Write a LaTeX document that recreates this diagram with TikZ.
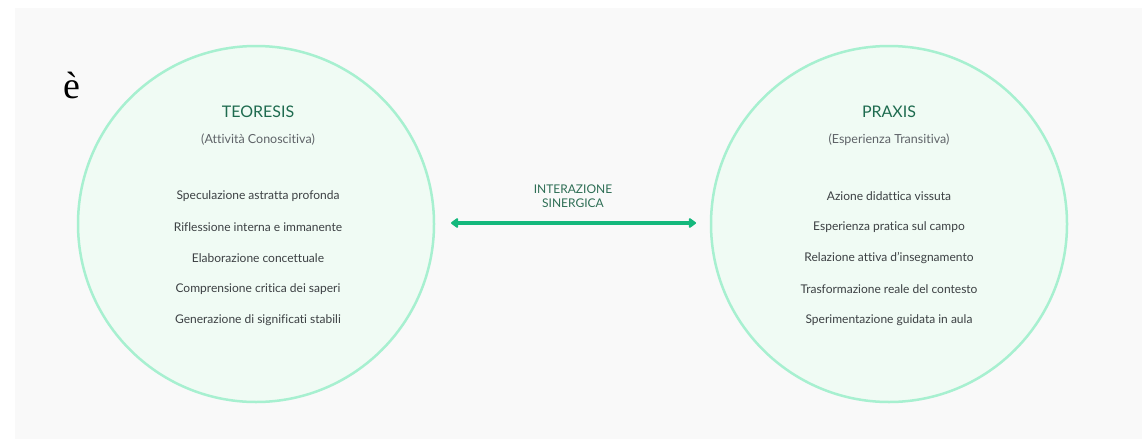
\documentclass[tikz,border=0pt]{standalone}
\usepackage{fontspec}
\setmainfont[Ligatures={NoCommon,NoRare}]{Lato}
\newfontfamily\serifx{Liberation Serif}
\usetikzlibrary{arrows.meta}
\definecolor{bgc}{HTML}{F9F9F9}
\definecolor{ringc}{HTML}{A7F0D0}
\definecolor{fillc}{HTML}{F0FBF4}
\definecolor{titlec}{HTML}{1E6B4F}
\definecolor{subc}{HTML}{5F6368}
\definecolor{itemc}{HTML}{3C4043}
\definecolor{arrowc}{HTML}{14B87C}
\definecolor{labc}{HTML}{2E6E55}
\tikzset{
  ring/.style={circle, draw=ringc, line width=2.5pt, fill=fillc, minimum size=356pt, inner sep=0pt},
  ttl/.style={text=titlec, font=\fontsize{16}{18}\selectfont, anchor=center},
  subt/.style={text=subc, font=\fontsize{12.5}{14}\selectfont, anchor=center},
  item/.style={text=itemc, font=\fontsize{12}{14}\selectfont, anchor=center},
  lab/.style={text=labc, font=\fontsize{12}{14}\selectfont, align=center, anchor=center},
  link/.style={draw=arrowc, line width=4pt, {Triangle[width=11pt,length=8pt,round]}-{Triangle[width=11pt,length=8pt,round]}}
}
\begin{document}
\begin{tikzpicture}[x=1pt,y=-1pt]
\useasboundingbox (0,0) rectangle (1142,439);
\fill[white] (0,0) rectangle (1142,439);
\fill[bgc] (15,8) rectangle (1142,439);
% circles
\node[ring] (teo) at (256,224) {};
\node[ring] (pra) at (889,224) {};
% left texts
\node[ttl] (teot) at (258,112) {TEORESIS};
\node[subt] (teos) at (258,140) {(Attività Conoscitiva)};
\node[item] (t1) at (258,196) {Speculazione astratta profonda};
\node[item] (t2) at (258,227) {Riflessione interna e immanente};
\node[item] (t3) at (258,258) {Elaborazione concettuale};
\node[item] (t4) at (258,289) {Comprensione critica dei saperi};
\node[item] (t5) at (258,320) {Generazione di significati stabili};
% right texts
\node[ttl] (prat) at (889,112) {PRAXIS};
\node[subt] (pras) at (889,140) {(Esperienza Transitiva)};
\node[item] (p1) at (889,196) {Azione didattica vissuta};
\node[item] (p2) at (889,227) {Esperienza pratica sul campo};
\node[item] (p3) at (889,258) {Relazione attiva d’insegnamento};
\node[item] (p4) at (889,289) {Trasformazione reale del contesto};
\node[item] (p5) at (889,320) {Sperimentazione guidata in aula};
% middle
\node[lab] (lab) at (573,196) {INTERAZIONE\\SINERGICA};
\coordinate (aL) at (451,223);
\coordinate (aR) at (696,223);
\draw[link] (aL) -- (aR);
% stray glyph
\node[anchor=base, font=\serifx\fontsize{38}{40}\selectfont, inner sep=0pt] (eg) at (72,98) {è};
\end{tikzpicture}
\end{document}
